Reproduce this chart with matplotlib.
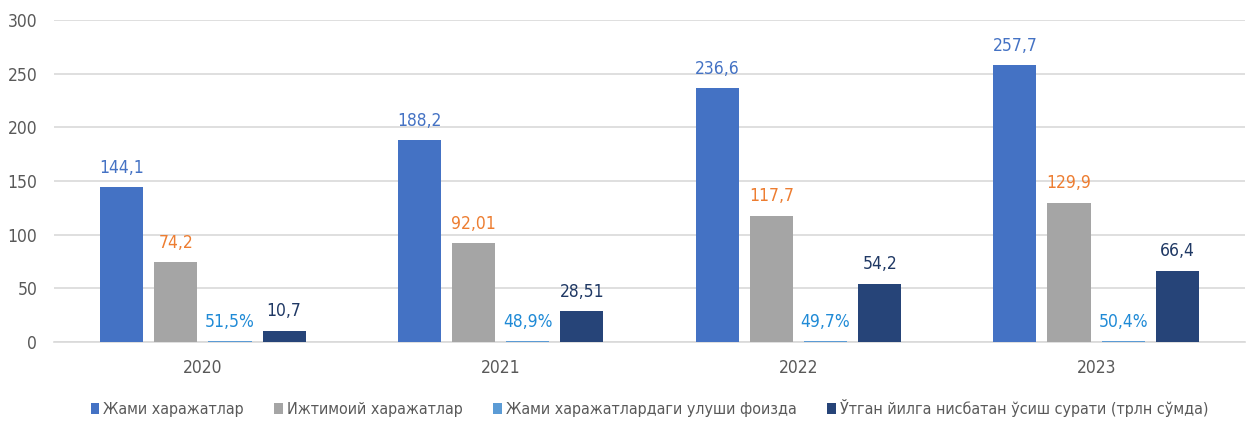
import matplotlib
matplotlib.use("Agg")
import matplotlib.pyplot as plt
import numpy as np

plt.rcParams['font.family'] = ['DejaVu Sans']
plt.rcParams['font.stretch'] = 'condensed'

years = ["2020", "2021", "2022", "2023"]
total_exp = [144.1, 188.2, 236.6, 257.7]
social_exp = [74.2, 92.01, 117.7, 129.9]
share_pct = [51.5, 48.9, 49.7, 50.4]
growth = [10.7, 28.51, 54.2, 66.4]

total_lbl = ["144,1", "188,2", "236,6", "257,7"]
social_lbl = ["74,2", "92,01", "117,7", "129,9"]
share_lbl = ["51,5%", "48,9%", "49,7%", "50,4%"]
growth_lbl = ["10,7", "28,51", "54,2", "66,4"]

series = [
    ("Жами харажатлар", total_exp, total_lbl, "#4472C4", "#4472C4"),
    ("Ижтимоий харажатлар", social_exp, social_lbl, "#A5A5A5", "#ED7D31"),
    ("Жами харажатлардаги улуши фоизда", [v / 100 for v in share_pct], share_lbl, "#5B9BD5", "#1F8AD6"),
    ("Ўтган йилга нисбатан ўсиш сурати (трлн сўмда)", growth, growth_lbl, "#264478", "#1F3864"),
]

fig = plt.figure(figsize=(12.5, 4.21), dpi=100)
ax = fig.add_axes([0.0432, 0.1876, 0.9528, 0.765])

x = np.arange(len(years))
step = 0.182
width = 0.145
for i, (name, vals, lbls, col, lcol) in enumerate(series):
    pos = x + (i - 1.5) * step
    bars = ax.bar(pos, vals, width, color=col, label=name, zorder=3)
    for b, t in zip(bars, lbls):
        ax.annotate(t, (b.get_x() + b.get_width() / 2, b.get_height()),
                    xytext=(0, 14), textcoords="offset points",
                    ha="center", va="center", fontsize=12.5, color=lcol)

ax.set_xlim(-0.5, 3.5)
ax.set_ylim(0, 300)
ax.set_yticks(range(0, 301, 50))
ax.set_xticks(x)
ax.set_xticklabels(years)
ax.yaxis.grid(True, color="#D9D9D9", linewidth=1.2, zorder=0)
for s in ["top", "right", "left"]:
    ax.spines[s].set_visible(False)
ax.spines["bottom"].set_color("#D9D9D9")
ax.spines["bottom"].set_linewidth(1.2)
ax.tick_params(axis="both", length=0, labelsize=12.5, labelcolor="#595959")
ax.tick_params(axis="x", pad=12)
ax.tick_params(axis="y", pad=12)

ax.legend(loc="center", bbox_to_anchor=(0.5, -0.205), ncol=4, frameon=False,
          fontsize=11.5, labelcolor="#595959", handlelength=0.55, handleheight=0.75,
          handletextpad=0.25, columnspacing=1.9)

fig.savefig("out.png", dpi=100)
